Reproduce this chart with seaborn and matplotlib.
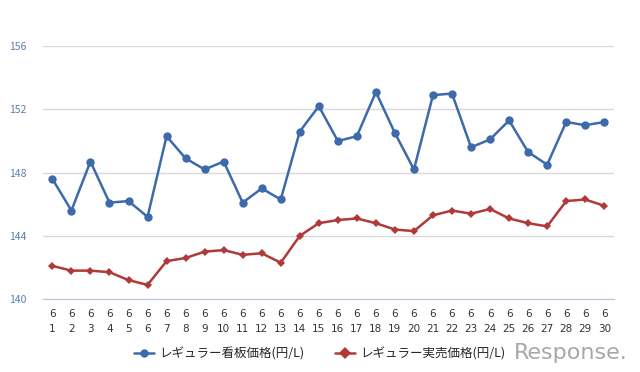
import seaborn as sns
import matplotlib.pyplot as plt
import pandas as pd

days = list(range(1, 31))
month = 6

signboard = [147.6, 145.6, 148.7, 146.1, 146.2, 145.2, 150.3, 148.9, 148.2, 148.7,
             146.1, 147.0, 146.3, 150.6, 152.2, 150.0, 150.3, 153.1, 150.5, 148.2,
             152.9, 153.0, 149.6, 150.1, 151.3, 149.3, 148.5, 151.2, 151.0, 151.2]
actual = [142.1, 141.8, 141.8, 141.7, 141.2, 140.9, 142.4, 142.6, 143.0, 143.1,
          142.8, 142.9, 142.3, 144.0, 144.8, 145.0, 145.1, 144.8, 144.4, 144.3,
          145.3, 145.6, 145.4, 145.7, 145.1, 144.8, 144.6, 146.2, 146.3, 145.9]

label_sign = 'レギュラー看板価格(円/L)'
label_act = 'レギュラー実売価格(円/L)'

sns.set_style('white')
plt.rcParams['font.family'] = ['Noto Sans CJK JP', 'DejaVu Sans']

df = pd.DataFrame({'pos': range(len(days)), label_sign: signboard, label_act: actual})
long = df.melt(id_vars='pos', var_name='series', value_name='price')

fig = plt.figure(figsize=(6.4, 3.72), dpi=100)
ax = fig.add_axes([0.067, 0.196, 0.892, 0.68])

sns.lineplot(data=long, x='pos', y='price', hue='series', style='series',
             palette=['#3d6aab', '#b03a3a'], markers=['o', 'D'], dashes=False,
             markersize=6, linewidth=1.8, markeredgewidth=0, ax=ax)
# smaller diamonds for the red series
ax.lines[1].set_markersize(4.5)

ax.set_xlim(-0.5, len(days) - 0.5)
ax.set_ylim(140, 156)
ax.set_yticks([140, 144, 148, 152, 156])
ax.set_xticks(range(len(days)))
ax.set_xticklabels([f'{month}\n{d}' for d in days], fontsize=7.5, color='#333333',
                   family=['DejaVu Sans'], linespacing=1.7)
ax.set_xticks([i - 0.5 for i in range(len(days) + 1)], minor=True)
ax.tick_params(axis='x', which='major', length=0, pad=7)
ax.tick_params(axis='x', which='minor', length=5, color='#b8c8dc', direction='out')
ax.tick_params(axis='y', length=0, labelsize=7.5, labelcolor='#5b7fae', pad=12)
ax.set_xlabel('')
ax.set_ylabel('')

ax.grid(axis='y', color='#d9d9d9', linewidth=1)
ax.set_axisbelow(True)
for s in ['top', 'right', 'left']:
    ax.spines[s].set_visible(False)
ax.spines['bottom'].set_color('#b8c8dc')

ax.legend(loc='center', bbox_to_anchor=(0.485, -0.215), ncol=2, frameon=False,
          fontsize=9, handlelength=1.6, handletextpad=0.4, columnspacing=2.5)

fig.text(0.98, 0.052, 'Response.', ha='right', va='center', fontsize=16,
         color='#a8a8a8', family='DejaVu Sans')

plt.savefig('out.png', dpi=100)
plt.close()
